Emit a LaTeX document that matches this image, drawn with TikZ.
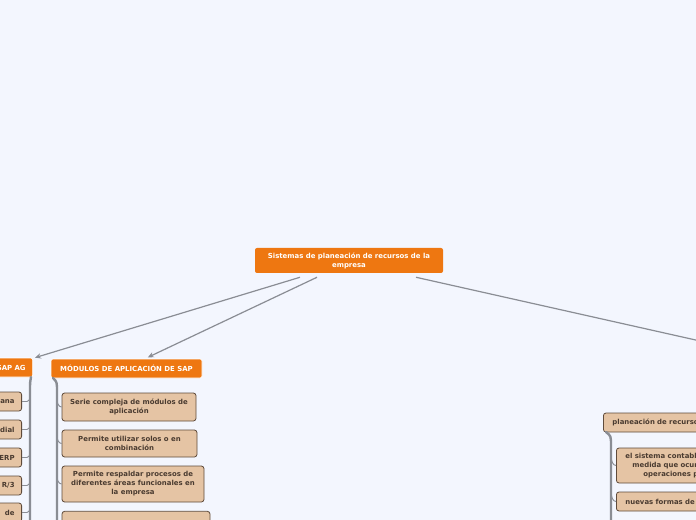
\documentclass[tikz,border=0pt]{standalone}
\usepackage{fontspec}
\setmainfont{DejaVu Sans}
\usetikzlibrary{arrows.meta, positioning, calc}
\definecolor{bgcol}{HTML}{F3F6FE}
\definecolor{topic}{HTML}{EE7711}
\definecolor{leafcol}{HTML}{E5C4A4}
\definecolor{leafline}{HTML}{5F4B3B}
\definecolor{leaftext}{HTML}{4A3B30}
\definecolor{linkcol}{HTML}{8A8D94}

\begin{document}
\begin{tikzpicture}[
    x=0.75pt, y=-0.75pt,
    every node/.style = {font=\fontsize{5.2}{6.7}\selectfont\bfseries},
    main/.style     = {rectangle, rounded corners=1.5pt, fill=topic, text=white,
                       inner sep=0pt, align=center},
    branchbox/.style = {main, draw=white, line width=0.5pt},
    leaf/.style     = {rectangle, rounded corners=2pt, fill=leafcol, draw=leafline,
                       line width=0.6pt, text=leaftext, align=center, inner sep=0pt},
    link/.style     = {draw=linkcol, line width=0.9pt, -{Stealth[length=4.5pt, width=4pt]}},
    spine/.style    = {draw=linkcol, line width=1.8pt, line cap=round},
    twig/.style     = {draw=linkcol, line width=0.7pt},
]

%% ---- Frame ----
\useasboundingbox (0,0) rectangle (696,520);
\fill[bgcol] (0,0) rectangle (696,520);
\clip (0,0) rectangle (696,520);

%% ---- Central topic ----
\node[main, minimum width=141pt, minimum height=18.75pt] (root) at (349,260.5)
    {Sistemas de planeación de recursos de la\\empresa};

%% ---- Main branches ----
\node[branchbox, anchor=east, text width=50pt, align=right, inner xsep=5.25pt,
      minimum height=14.25pt] (sapag) at (33,367.5) {SAP AG};
\node[branchbox, minimum width=113.25pt, minimum height=14.25pt] (modulos) at (126.5,368.5)
    {MÓDULOS DE APLICACIÓN DE SAP};
\coordinate (offright) at (800,363.4);

\draw[link] ([xshift=-36.75pt, yshift=-3pt]root.south) -- ([xshift=1.5pt]sapag.north east);
\draw[link] ([xshift=-24pt, yshift=-3pt]root.south) -- ([xshift=16pt, yshift=1pt]modulos.north);
\draw[linkcol, line width=0.9pt] ([xshift=50.25pt, yshift=-3pt]root.south) -- (offright);

%% ---- SAP AG children (cut by left edge) ----
\foreach \t/\y [count=\k] in {ana/401.5, dial/429.5, ERP/457.5, {R/3}/485.5, de/512.5}{
    \node[leaf, anchor=east, text width=40pt, align=right, inner xsep=5.25pt,
          minimum height=14.25pt] (sap\k) at (22,\y) {\t};
}
\coordinate (sapTop) at (31,377);
\coordinate (sapEnd) at (30,530);
\draw[spine] (sapTop) .. controls (30,382) .. (30,392) -- (sapEnd);
\foreach \k in {1,...,5}{
    \draw[twig] (sap\k.east) -- ++(5,0) .. controls +(2,0) and +(0,4) .. ++(3,-6);
}

%% ---- Módulos children ----
\node[leaf, minimum width=100.5pt, minimum height=21pt] (m1) at (129,407)
    {Serie compleja de módulos de\\aplicación};
\node[leaf, minimum width=101.25pt, minimum height=20.25pt] (m2) at (129.5,443.5)
    {Permite utilizar solos o en\\combinación};
\node[leaf, minimum width=106.5pt, minimum height=27pt] (m3) at (133,484)
    {Permite respaldar procesos de\\diferentes áreas funcionales en\\la empresa};
\node[leaf, minimum width=111pt, minimum height=22pt] (m4) at (136,526) {};

\coordinate (modTop) at (53,378);
\coordinate (modEnd) at (57,530);
\draw[spine] (modTop) .. controls (57,382) .. (57,392) -- (modEnd);
\foreach \k in {1,...,4}{
    \draw[twig] ($(m\k.west)+(-5,-11)$) .. controls +(0,7) and +(-3,0) .. (m\k.west);
}

%% ---- Right branch (cut by right edge) ----
\node[leaf, anchor=west, text width=100pt, align=left, inner xsep=6.75pt,
      minimum height=14.25pt] (plan) at (603,422.5) {planeación de recursos};
\node[leaf, anchor=west, text width=90pt, align=left, inner xsep=6.75pt,
      minimum height=26.25pt] (r1) at (616,465.5)
    {el sistema contable\\\hspace*{5.25pt}medida que ocurren\\\hspace*{13.5pt}operaciones p};
\node[leaf, anchor=west, text width=90pt, align=left, inner xsep=6.75pt,
      minimum height=14.25pt] (r2) at (616,501.5) {nuevas formas de};

\coordinate (planTop) at (606,432);
\coordinate (planEnd) at (611,530);
\draw[spine] (planTop) .. controls (611,436) .. (611,446) -- (planEnd);
\foreach \k in {1,2}{
    \draw[twig] ($(r\k.west)+(-5,-11)$) .. controls +(0,7) and +(-3,0) .. (r\k.west);
}

\end{tikzpicture}
\end{document}
